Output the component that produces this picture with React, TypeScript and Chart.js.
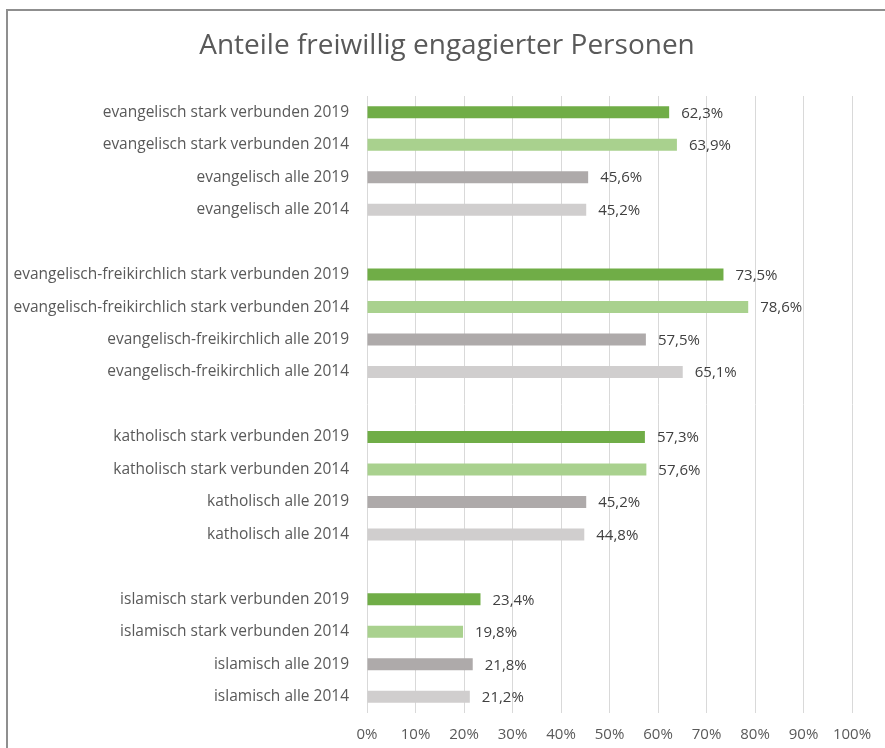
import React, { useEffect, useRef } from "react";
import { Chart, registerables } from "chart.js";

Chart.register(...registerables);

const title = "Anteile freiwillig engagierter Personen";

const categories: string[] = [
  "evangelisch stark verbunden 2019",
  "evangelisch stark verbunden 2014",
  "evangelisch alle 2019",
  "evangelisch alle 2014",
  "",
  "evangelisch-freikirchlich stark verbunden 2019",
  "evangelisch-freikirchlich stark verbunden 2014",
  "evangelisch-freikirchlich alle 2019",
  "evangelisch-freikirchlich alle 2014",
  "",
  "katholisch stark verbunden 2019",
  "katholisch stark verbunden 2014",
  "katholisch alle 2019",
  "katholisch alle 2014",
  "",
  "islamisch stark verbunden 2019",
  "islamisch stark verbunden 2014",
  "islamisch alle 2019",
  "islamisch alle 2014",
];

const values: (number | null)[] = [
  62.3, 63.9, 45.6, 45.2, null,
  73.5, 78.6, 57.5, 65.1, null,
  57.3, 57.6, 45.2, 44.8, null,
  23.4, 19.8, 21.8, 21.2,
];

// colour per position within a group: stark 2019, stark 2014, alle 2019, alle 2014
const groupColors = ["#70AD47", "#A9D18E", "#AEAAAA", "#D0CECE"];

const xTicks = [0, 10, 20, 30, 40, 50, 60, 70, 80, 90, 100];

const FONT = "'Open Sans', 'Noto Sans', sans-serif";

const fmt = (v: number) => v.toFixed(1).replace(".", ",") + "%";

const valueLabels = {
  id: "valueLabels",
  afterDatasetsDraw(chart: any) {
    const ctx = chart.ctx;
    const meta = chart.getDatasetMeta(0);
    ctx.save();
    ctx.font = `15px ${FONT}`;
    ctx.fillStyle = "#404040";
    ctx.textAlign = "left";
    ctx.textBaseline = "middle";
    meta.data.forEach((el: any, i: number) => {
      const v = values[i];
      if (v === null || v === undefined) return;
      ctx.fillText(fmt(v), el.x + 12, el.y + 1);
    });
    ctx.restore();
  },
};

const titlePlugin = {
  id: "customTitle",
  afterDraw(chart: any) {
    const ctx = chart.ctx;
    ctx.save();
    ctx.font = `28px ${FONT}`;
    ctx.fillStyle = "#595959";
    ctx.textAlign = "center";
    ctx.textBaseline = "middle";
    ctx.fillText(title, 447, 46);
    ctx.restore();
  },
};

export default function App() {
  const ref = useRef<HTMLCanvasElement>(null);

  useEffect(() => {
    if (!ref.current) return;
    const colors = values.map((_, i) => groupColors[i % 5] || "#000");
    const chart = new Chart(ref.current, {
      type: "bar",
      data: {
        labels: categories,
        datasets: [
          {
            data: values as any,
            backgroundColor: colors,
            barPercentage: 0.37,
            categoryPercentage: 1,
          },
        ],
      },
      options: {
        indexAxis: "y",
        responsive: false,
        animation: false,
        layout: { padding: { top: 96, right: 33, bottom: 0, left: 0 } },
        plugins: {
          legend: { display: false },
          tooltip: { enabled: false },
          title: { display: false },
        },
        scales: {
          x: {
            min: 0,
            max: 100,
            afterBuildTicks: (s: any) => {
              s.ticks = xTicks.map((v) => ({ value: v }));
            },
            afterFit: (s: any) => {
              s.height = 35;
            },
            grid: { color: "#D9D9D9", drawTicks: false, lineWidth: 1 },
            border: { display: false },
            ticks: {
              padding: 13,
              color: "#595959",
              font: { family: FONT, size: 15 },
              callback: (v: any) => v + "%",
            },
          },
          y: {
            afterFit: (s: any) => {
              s.width = 367;
            },
            grid: { display: false, drawTicks: false },
            border: { display: false },
            ticks: {
              padding: 18,
              color: "#595959",
              font: { family: FONT, size: 15.5 },
              autoSkip: false,
            },
          },
        },
      },
      plugins: [valueLabels, titlePlugin],
    });
    return () => chart.destroy();
  }, []);

  return (
    <div style={{ position: "fixed", left: 0, top: 0, width: 885, height: 748, background: "#fff" }}>
      <div
        style={{
          position: "absolute",
          left: 6,
          top: 9,
          width: 885,
          height: 748,
          borderLeft: "2px solid #8F8F8F",
          borderTop: "2px solid #8F8F8F",
        }}
      />
      <canvas ref={ref} width={885} height={748} style={{ position: "absolute", left: 0, top: 0 }} />
    </div>
  );
}
